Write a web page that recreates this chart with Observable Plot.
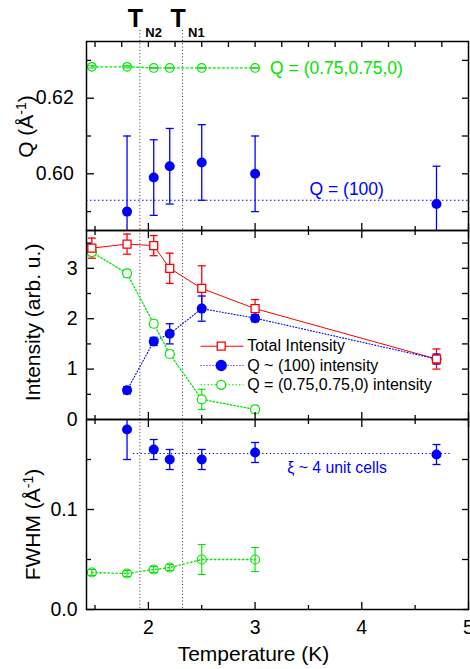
<!DOCTYPE html>
<html><head><meta charset="utf-8">
<script src="https://cdn.jsdelivr.net/npm/d3@7"></script>
<script src="https://cdn.jsdelivr.net/npm/@observablehq/plot@0.6"></script>
<style>
body{margin:0;background:#fff;}
#chart{position:relative;width:470px;height:669px;overflow:hidden;}
#chart svg{position:absolute;left:0;}
</style></head><body><div id="chart"></div>
<script>
// ---------- data ----------
const tempsGreen = [1.47, 1.8, 2.05, 2.2, 2.5, 3.0];
const tempsRed = [1.47, 1.8, 2.05, 2.2, 2.5, 3.0, 4.7];
const tempsBlue = [1.8, 2.05, 2.2, 2.5, 3.0, 4.7];

const qGreen = [0.6283, 0.6283, 0.628, 0.628, 0.628, 0.628];
const qGreenErr = [0.0003, 0.0003, 0, 0, 0, 0];
const qBlue = [0.590, 0.599, 0.602, 0.603, 0.600, 0.592];
const qBlueErr = [0.020, 0.010, 0.010, 0.010, 0.010, 0.010];
const qRef100 = 0.593;

const totalI = [3.40, 3.48, 3.45, 3.00, 2.60, 2.20, 1.20];
const totalIErr = [0.20, 0.20, 0.20, 0.30, 0.45, 0.18, 0.20];
const blueI = [0.58, 1.55, 1.70, 2.20, 2.01, 1.20];
const blueIErr = [0.07, 0.08, 0.20, 0.25, 0.07, 0.10];
const greenI = [3.32, 2.90, 1.90, 1.30, 0.40, 0.20];
const greenIErr = [0.07, 0.07, 0.07, 0.07, 0.20, 0.07];

const fwhmBlue = [0.180, 0.160, 0.150, 0.150, 0.157, 0.155];
const fwhmBlueErr = [0.030, 0.010, 0.010, 0.010, 0.010, 0.010];
const fwhmGreen = [0.037, 0.036, 0.040, 0.042, 0.050, 0.050];
const fwhmGreenErr = [0.003, 0.003, 0.003, 0.003, 0.015, 0.012];
const xiLine = [{x1: 1.86, x2: 4.83, y: 0.156}];

const transitions = [{t: 1.92, label: "N2"}, {t: 2.32, label: "N1"}];

const xMajor = [2, 3, 4, 5];
const xMinor = [1.5, 2.5, 3.5, 4.5];
const xFine = [1.5, 1.75, 2, 2.25, 2.5, 2.75, 3, 3.25, 3.5, 3.75, 4, 4.25, 4.5, 4.75];
const qMajor = [0.60, 0.62];
const qMinor = [0.59, 0.61, 0.63];
const iMajor = [0, 1, 2, 3];
const iMinor = [0.5, 1.5, 2.5, 3.5];
const fMajor = [0, 0.1];
const fMinor = [0.05, 0.15];

const legendLabels = ["Total Intensity", "Q ~ (100) intensity", "Q = (0.75,0.75,0) intensity"];
const labelQ100 = "Q = (100)";
const labelQ075 = "Q = (0.75,0.75,0)";
const labelXi = "ξ ~ 4 unit cells";

// ---------- styling ----------
const GREEN = "#00e600", BLUE = "#0000ff", RED = "#ff0000";
const FONT = "'Liberation Sans', Arial, Helvetica, sans-serif";
const W = 470, ML = 86, MR = 2;
const xDomain = [1.42, 5];

const rows = (xs, ys, es) => xs.map((x, i) => ({x, y: ys[i], e: es ? es[i] : 0}));
const hbar = {draw(ctx, size) { const r = Math.sqrt(size / Math.PI); ctx.moveTo(-r, 0); ctx.lineTo(r, 0); }};

function errorBars(data, color, opts = {}) {
  const o = {stroke: color, strokeWidth: 1.3, ...opts};
  return [
    Plot.ruleX(data, {x: "x", y1: d => d.y - d.e, y2: d => d.y + d.e, ...o}),
    Plot.dot(data, {x: "x", y: d => d.y + d.e, symbol: hbar, r: 4, ...o}),
    Plot.dot(data, {x: "x", y: d => d.y - d.e, symbol: hbar, r: 4, ...o})
  ];
}

const blank = () => "";
function frameTicks({yMaj, yMin, yFmt, yPad, topFine = false, bottomLabels = false}) {
  return [
    Plot.axisY(yMaj, {anchor: "left", tickSize: -8, tickPadding: yPad, tickFormat: yFmt, fontSize: 19.5, label: null, strokeWidth: 1.3}),
    Plot.axisY(yMin, {anchor: "left", tickSize: -5, tickFormat: blank, label: null, strokeWidth: 1.3}),
    Plot.axisY(yMaj.concat(yMin), {anchor: "right", tickSize: -7, tickFormat: blank, label: null, strokeWidth: 1.3}),
    topFine
      ? Plot.axisX(xFine, {anchor: "top", tickSize: -5, tickFormat: blank, label: null, strokeWidth: 1.3})
      : [Plot.axisX(xMajor, {anchor: "top", tickSize: -7, tickFormat: blank, label: null, strokeWidth: 1.3}),
         Plot.axisX(xMinor, {anchor: "top", tickSize: -4, tickFormat: blank, label: null, strokeWidth: 1.3})],
    Plot.axisX(xMajor, {anchor: "bottom", tickSize: -7, tickPadding: 17.7, tickFormat: bottomLabels ? d => String(d) : blank, fontSize: 19.5, label: null, strokeWidth: 1.3}),
    Plot.axisX(xMinor, {anchor: "bottom", tickSize: -4, tickFormat: blank, label: null, strokeWidth: 1.3}),
    Plot.frame({stroke: "black", strokeWidth: 1.5})
  ];
}

const tnRules = (opts = {}) => Plot.ruleX(transitions, {x: "t", stroke: "#333", strokeWidth: 1, strokeDasharray: "1,2.3", ...opts});

function yLabel(text, dx, dy) {
  return Plot.text([text], {frameAnchor: "left", rotate: -90, dx, dy, lineAnchor: "bottom", textAnchor: "middle", fontSize: 21, fill: "black"});
}

function supers(svg) {
  svg.querySelectorAll("text").forEach(t => {
    const s = t.textContent;
    const i = s.indexOf("Å-1");
    if (i < 0 || t.children.length) return;
    const ns = "http://www.w3.org/2000/svg";
    t.textContent = "";
    const a = document.createElementNS(ns, "tspan"); a.textContent = s.slice(0, i + 1);
    const b = document.createElementNS(ns, "tspan"); b.textContent = "-1";
    b.setAttribute("font-size", "14"); b.setAttribute("dy", "-7");
    const c = document.createElementNS(ns, "tspan"); c.textContent = s.slice(i + 3);
    c.setAttribute("dy", "7");
    t.append(a, b, c);
  });
}

function panel({height, marginTop = 0, marginBottom = 0, yDomain, top, marks}) {
  const svg = Plot.plot({
    width: W, height, marginLeft: ML, marginRight: MR, marginTop, marginBottom,
    x: {domain: xDomain}, y: {domain: yDomain},
    style: {fontFamily: FONT, background: "transparent", overflow: "visible", maxWidth: "none"},
    marks
  });
  svg.style.top = top + "px";
  supers(svg);
  document.getElementById("chart").append(svg);
}

// ---------- top panel: Q ----------
const topGreen = rows(tempsGreen, qGreen, qGreenErr);
const topBlue = rows(tempsBlue, qBlue, qBlueErr);
panel({
  height: 230, marginTop: 41, yDomain: [0.585, 0.635], top: 0,
  marks: [
    tnRules({insetTop: -11}),
    Plot.ruleY([qRef100], {stroke: BLUE, strokeWidth: 1.2, strokeDasharray: "1.5,2.5"}),
    Plot.text([labelQ100], {y: [qRef100], frameAnchor: "left", dx: 223, dy: -11, textAnchor: "start", lineAnchor: "middle", fill: BLUE, fontSize: 17.5}),
    Plot.line(topGreen, {x: "x", y: "y", stroke: GREEN, strokeWidth: 1.3, strokeDasharray: "2,2.5"}),
    errorBars(topGreen, GREEN, {strokeWidth: 1}),
    Plot.dot(topGreen, {x: "x", y: "y", r: 4.3, stroke: GREEN, strokeWidth: 1.2, fill: "white", fillOpacity: 0}),
    Plot.text(topGreen.slice(-1), {x: "x", y: "y", text: () => labelQ075, dx: 15, textAnchor: "start", lineAnchor: "middle", fill: GREEN, fontSize: 17.5}),
    errorBars(topBlue, BLUE, {clip: true}),
    Plot.dot(topBlue, {x: "x", y: "y", r: 5, fill: BLUE, clip: true}),
    Plot.text(transitions, {x: "t", text: () => "T", frameAnchor: "top", dx: -4.5, dy: -15, lineAnchor: "bottom", fontSize: 25, fontWeight: "bold", fill: "black"}),
    Plot.text(transitions, {x: "t", text: "label", frameAnchor: "top", dx: 5.5, dy: -5, lineAnchor: "bottom", textAnchor: "start", fontSize: 13, fontWeight: "bold", fill: "black"}),
    yLabel("Q (Å-1)", -54, -9.5),
    frameTicks({yMaj: qMajor, yMin: qMinor, yFmt: d3.format(".2f"), yPad: 20.7, topFine: true})
  ]
});

// ---------- middle panel: intensity ----------
const midRed = rows(tempsRed, totalI, totalIErr);
const midBlue = rows(tempsBlue, blueI, blueIErr);
const midGreen = rows(tempsGreen, greenI, greenIErr);
const legendRows = [
  {dy: 115.7, color: RED, dash: null, symbol: "square", r: 4.5, fill: "white"},
  {dy: 135, color: BLUE, dash: "1,2", symbol: "circle", r: 5, fill: BLUE},
  {dy: 154.3, color: GREEN, dash: "1.5,2", symbol: "circle", r: 4.5, fill: "white"}
];
panel({
  height: 189, yDomain: [0, 3.75], top: 230,
  marks: [
    tnRules(),
    Plot.line(midRed, {x: "x", y: "y", stroke: RED, strokeWidth: 1}),
    Plot.line(midBlue, {x: "x", y: "y", stroke: BLUE, strokeWidth: 1.1, strokeDasharray: "1,2"}),
    Plot.line(midGreen, {x: "x", y: "y", stroke: GREEN, strokeWidth: 1.3, strokeDasharray: "1.5,2"}),
    errorBars(midGreen, GREEN, {strokeWidth: 1.1}),
    errorBars(midRed, RED),
    Plot.dot(midGreen, {x: "x", y: "y", r: 4.5, stroke: GREEN, strokeWidth: 1.2, fill: "white"}),
    errorBars(midBlue, BLUE),
    Plot.dot(midBlue, {x: "x", y: "y", r: 5, fill: BLUE}),
    Plot.dot(midRed, {x: "x", y: "y", symbol: "square", r: 4.5, stroke: RED, strokeWidth: 1.3, fill: "white"}),
    legendLabels.map((lab, i) => {
      const L = legendRows[i];
      return [
        Plot.dot([lab], {frameAnchor: "top-left", dx: 135.5, dy: L.dy, symbol: hbar, r: 21.5, stroke: L.color, strokeWidth: 1.1, strokeDasharray: L.dash}),
        Plot.dot([lab], {frameAnchor: "top-left", dx: 134.7, dy: L.dy, symbol: L.symbol, r: L.r, stroke: L.color, strokeWidth: 1.3, fill: L.fill}),
        Plot.text([lab], {frameAnchor: "top-left", dx: 160.7, dy: L.dy, textAnchor: "start", lineAnchor: "middle", fontSize: 16, fill: "black"})
      ];
    }),
    yLabel("Intensity (arb. u.)", -47, -2.6),
    frameTicks({yMaj: iMajor, yMin: iMinor, yFmt: d => String(d), yPad: 17})
  ]
});

// ---------- bottom panel: FWHM ----------
const botBlue = rows(tempsBlue, fwhmBlue, fwhmBlueErr);
const botGreen = rows(tempsGreen, fwhmGreen, fwhmGreenErr);
panel({
  height: 250, marginBottom: 60, yDomain: [0, 0.19], top: 419,
  marks: [
    tnRules(),
    Plot.ruleY(xiLine, {x1: "x1", x2: "x2", y: "y", stroke: BLUE, strokeWidth: 1.1, strokeDasharray: "1.3,2.5"}),
    Plot.text(xiLine, {y: "y", text: () => labelXi, frameAnchor: "left", dx: 200.7, dy: 14, textAnchor: "start", lineAnchor: "middle", fill: BLUE, fontSize: 15.8}),
    Plot.line(botGreen, {x: "x", y: "y", stroke: GREEN, strokeWidth: 1.3, strokeDasharray: "1.5,2.5"}),
    errorBars(botGreen, GREEN, {strokeWidth: 1.1}),
    Plot.dot(botGreen, {x: "x", y: "y", r: 4.5, stroke: GREEN, strokeWidth: 1.2, fill: "none"}),
    errorBars(botBlue, BLUE, {clip: true}),
    Plot.dot(botBlue, {x: "x", y: "y", r: 5, fill: BLUE, clip: true}),
    yLabel("FWHM (Å-1)", -47, 10),
    Plot.text(["Temperature (K)"], {frameAnchor: "bottom", dx: -24, dy: 45, lineAnchor: "middle", fontSize: 21, fill: "black"}),
    frameTicks({yMaj: fMajor, yMin: fMinor, yFmt: d3.format(".1f"), yPad: 17, bottomLabels: true})
  ]
});
</script></body></html>
